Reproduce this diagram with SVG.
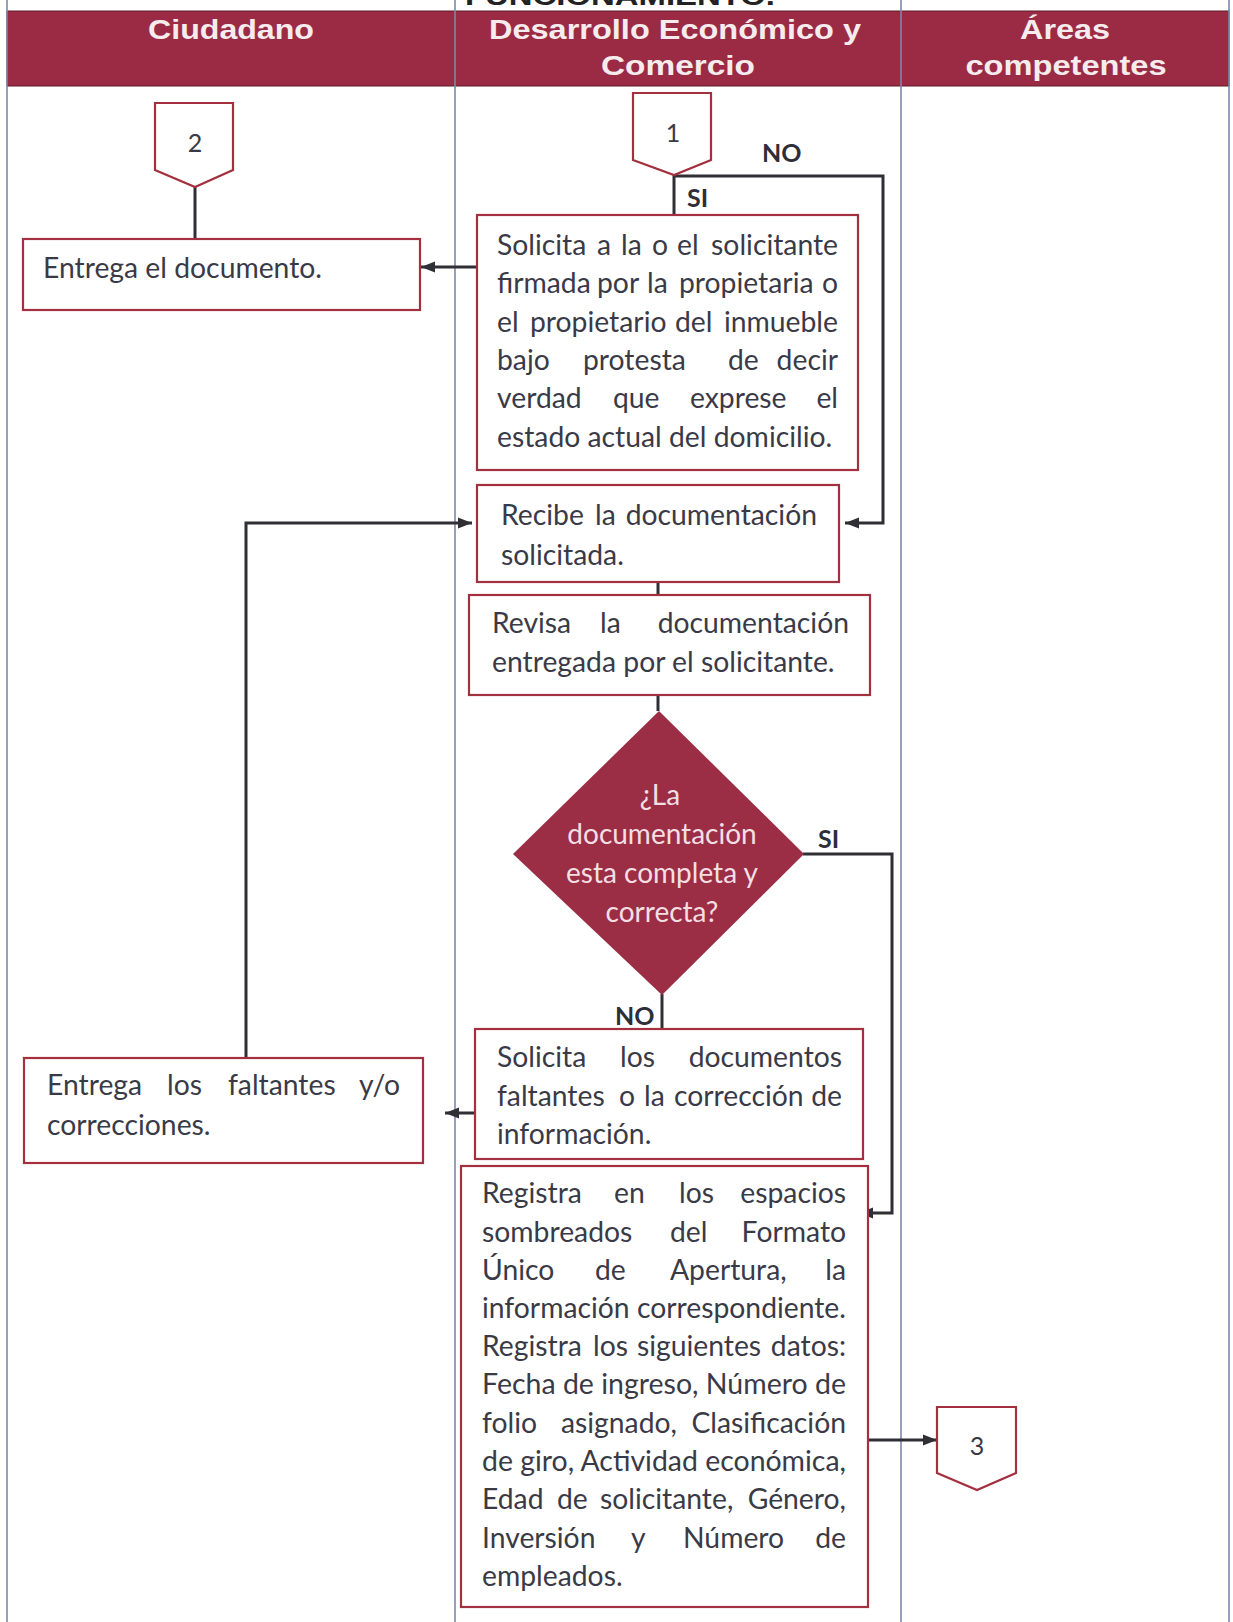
<svg xmlns="http://www.w3.org/2000/svg" width="1233" height="1622" viewBox="0 0 1233 1622">
  <style>
    .lane { stroke: #7d87ad; stroke-width: 1.6; fill: none; }
    .hd { font-family: "Liberation Sans", Arial, sans-serif; font-weight: bold; font-size: 28px; fill: #f6ecee; text-anchor: middle; }
    .box { fill: #ffffff; stroke: #a3303f; stroke-width: 2.2; }
    .t { font-family: Lato, "Liberation Sans", sans-serif; font-size: 28.3px; fill: #3a3a47; }
    .dt { font-family: Lato, "Liberation Sans", sans-serif; font-size: 28px; fill: #f3dfe3; text-anchor: middle; }
    .lbl { font-family: Lato, "Liberation Sans", sans-serif; font-weight: bold; font-size: 25px; fill: #2e2e38; }
    .num { font-family: Lato, "Liberation Sans", sans-serif; font-size: 25px; fill: #3a3a47; text-anchor: middle; }
    .conn { fill: none; stroke: #2f2f35; stroke-width: 3; }
    .end { text-anchor: end; }
  </style>
  <defs>
    <marker id="arrow" viewBox="0 0 14 12" refX="14" refY="6" markerWidth="14" markerHeight="12" markerUnits="userSpaceOnUse" orient="auto">
      <path d="M0,0.5 L14,6 L0,11.5 z" fill="#2f2f35"/>
    </marker>
  </defs>

  <rect x="0" y="0" width="1233" height="1622" fill="#ffffff"/>

  <!-- page title, running off the top edge -->
  <text x="620" y="5" text-anchor="middle" font-family="Liberation Sans, Arial, sans-serif" font-weight="bold" font-size="26" fill="#222" textLength="310" lengthAdjust="spacingAndGlyphs">FUNCIONAMIENTO.</text>

  <!-- swimlane header -->
  <g id="header">
    <rect x="7" y="11" width="1222" height="75" fill="#9b2b44" stroke="#5e1a28" stroke-width="1"/>
    <text class="hd" x="231" y="39" textLength="166" lengthAdjust="spacingAndGlyphs">Ciudadano</text>
    <text class="hd" x="675" y="39" textLength="372" lengthAdjust="spacingAndGlyphs">Desarrollo Económico y</text>
    <text class="hd" x="678" y="75" textLength="154" lengthAdjust="spacingAndGlyphs">Comercio</text>
    <text class="hd" x="1065" y="39" textLength="90" lengthAdjust="spacingAndGlyphs">Áreas</text>
    <text class="hd" x="1066" y="75" textLength="201" lengthAdjust="spacingAndGlyphs">competentes</text>
  </g>

  <!-- lane borders -->
  <g id="lanes">
    <line class="lane" x1="7" y1="0" x2="7" y2="1622"/>
    <line class="lane" x1="455" y1="0" x2="455" y2="1622"/>
    <line class="lane" x1="901" y1="0" x2="901" y2="1622"/>
    <line class="lane" x1="1229" y1="0" x2="1229" y2="1622"/>
  </g>

  <!-- connectors -->
  <g id="connectors">
    <path class="conn" d="M674,175 V215"/>
    <path class="conn" d="M674,176 H883 V523 H845" marker-end="url(#arrow)"/>
    <path class="conn" d="M477,267 H421" marker-end="url(#arrow)"/>
    <path class="conn" d="M195,187 V239"/>
    <path class="conn" d="M658,582 V595"/>
    <path class="conn" d="M658,695 V711"/>
    <path class="conn" d="M803,854 H892 V1213 H859" marker-end="url(#arrow)"/>
    <path class="conn" d="M662,994 V1029"/>
    <path class="conn" d="M475,1113 H445" marker-end="url(#arrow)"/>
    <path class="conn" d="M246,1058 V523 H472" marker-end="url(#arrow)"/>
    <path class="conn" d="M868,1440 H937" marker-end="url(#arrow)"/>
    <text class="lbl" x="762" y="162">NO</text>
    <text class="lbl" x="687" y="207">SI</text>
    <text class="lbl" x="818" y="848">SI</text>
    <text class="lbl" x="615" y="1025">NO</text>
  </g>

  <!-- off-page connector 1 -->
  <g id="ref1">
    <path class="box" d="M633,93 H711 V160 L674,175 L633,160 Z"/>
    <text class="num" x="673" y="142">1</text>
  </g>

  <!-- off-page connector 2 -->
  <g id="ref2">
    <path class="box" d="M155,103 H233 V170 L195,187 L155,170 Z"/>
    <text class="num" x="195" y="152">2</text>
  </g>

  <!-- off-page connector 3 -->
  <g id="ref3">
    <path class="box" d="M937,1407 H1016 V1473 L977,1490 L937,1473 Z"/>
    <text class="num" x="977" y="1455">3</text>
  </g>

  <g id="solicita-firmada">
    <rect class="box" x="477" y="215" width="381" height="255"/>
    <text class="t" y="255"><tspan x="497">Solicita</tspan><tspan x="597">a</tspan><tspan x="621">la</tspan><tspan x="652">o</tspan><tspan x="677">el</tspan><tspan class="end" x="838">solicitante</tspan></text>
    <text class="t" y="293"><tspan x="497">firmada</tspan><tspan x="597">por</tspan><tspan x="647">la</tspan><tspan x="679">propietaria</tspan><tspan class="end" x="838">o</tspan></text>
    <text class="t" y="332"><tspan x="497">el</tspan><tspan x="530">propietario</tspan><tspan x="675">del</tspan><tspan class="end" x="838">inmueble</tspan></text>
    <text class="t" y="370"><tspan x="497">bajo</tspan><tspan x="583">protesta</tspan><tspan x="728">de</tspan><tspan class="end" x="838">decir</tspan></text>
    <text class="t" y="408"><tspan x="497">verdad</tspan><tspan x="613">que</tspan><tspan x="690">exprese</tspan><tspan class="end" x="838">el</tspan></text>
    <text class="t" x="497" y="447">estado actual del domicilio.</text>
  </g>

  <g id="entrega-documento">
    <rect class="box" x="23" y="239" width="397" height="71"/>
    <text class="t" x="43" y="278">Entrega el documento.</text>
  </g>

  <g id="recibe">
    <rect class="box" x="477" y="485" width="362" height="97"/>
    <text class="t" y="525"><tspan x="501">Recibe</tspan><tspan x="595">la</tspan><tspan class="end" x="817">documentación</tspan></text>
    <text class="t" x="501" y="565">solicitada.</text>
  </g>

  <g id="revisa">
    <rect class="box" x="469" y="595" width="401" height="100"/>
    <text class="t" y="633"><tspan x="492">Revisa</tspan><tspan x="600">la</tspan><tspan class="end" x="849">documentación</tspan></text>
    <text class="t" x="492" y="672">entregada por el solicitante.</text>
  </g>

  <g id="decision">
    <path d="M659,711 L804,854 L662,995 L513,854 Z" fill="#9b2e45"/>
    <text class="dt" x="660" y="805">¿La</text>
    <text class="dt" x="662" y="844">documentación</text>
    <text class="dt" x="662" y="883">esta completa y</text>
    <text class="dt" x="662" y="922">correcta?</text>
  </g>

  <g id="solicita-faltantes">
    <rect class="box" x="475" y="1029" width="388" height="130"/>
    <text class="t" y="1067"><tspan x="497">Solicita</tspan><tspan x="620">los</tspan><tspan class="end" x="842">documentos</tspan></text>
    <text class="t" y="1106"><tspan x="497">faltantes</tspan><tspan x="619">o</tspan><tspan x="644">la</tspan><tspan x="674">corrección</tspan><tspan class="end" x="842">de</tspan></text>
    <text class="t" x="497" y="1144">información.</text>
  </g>

  <g id="entrega-faltantes">
    <rect class="box" x="24" y="1058" width="399" height="105"/>
    <text class="t" y="1095"><tspan x="47">Entrega</tspan><tspan x="167">los</tspan><tspan x="228">faltantes</tspan><tspan class="end" x="400">y/o</tspan></text>
    <text class="t" x="47" y="1135">correcciones.</text>
  </g>

  <g id="registra">
    <rect class="box" x="461" y="1166" width="407" height="441"/>
    <text class="t" y="1203"><tspan x="482">Registra</tspan><tspan x="614">en</tspan><tspan x="679">los</tspan><tspan class="end" x="846">espacios</tspan></text>
    <text class="t" y="1242"><tspan x="482">sombreados</tspan><tspan x="670">del</tspan><tspan class="end" x="846">Formato</tspan></text>
    <text class="t" y="1280"><tspan x="482">Único</tspan><tspan x="595">de</tspan><tspan x="670">Apertura,</tspan><tspan class="end" x="846">la</tspan></text>
    <text class="t" y="1318"><tspan x="482">información</tspan><tspan class="end" x="846">correspondiente.</tspan></text>
    <text class="t" y="1356"><tspan x="482">Registra</tspan><tspan x="593">los</tspan><tspan x="637">siguientes</tspan><tspan class="end" x="846">datos:</tspan></text>
    <text class="t" x="482" y="1394" textLength="364" lengthAdjust="spacingAndGlyphs">Fecha de ingreso, Número de</text>
    <text class="t" y="1433"><tspan x="482">folio</tspan><tspan x="561">asignado,</tspan><tspan class="end" x="846">Clasificación</tspan></text>
    <text class="t" x="482" y="1471" textLength="364" lengthAdjust="spacingAndGlyphs">de giro, Actividad económica,</text>
    <text class="t" y="1509"><tspan x="482">Edad</tspan><tspan x="557">de</tspan><tspan x="600">solicitante,</tspan><tspan class="end" x="846">Género,</tspan></text>
    <text class="t" y="1548"><tspan x="482">Inversión</tspan><tspan x="631">y</tspan><tspan x="683">Número</tspan><tspan class="end" x="846">de</tspan></text>
    <text class="t" x="482" y="1586">empleados.</text>
  </g>
</svg>
